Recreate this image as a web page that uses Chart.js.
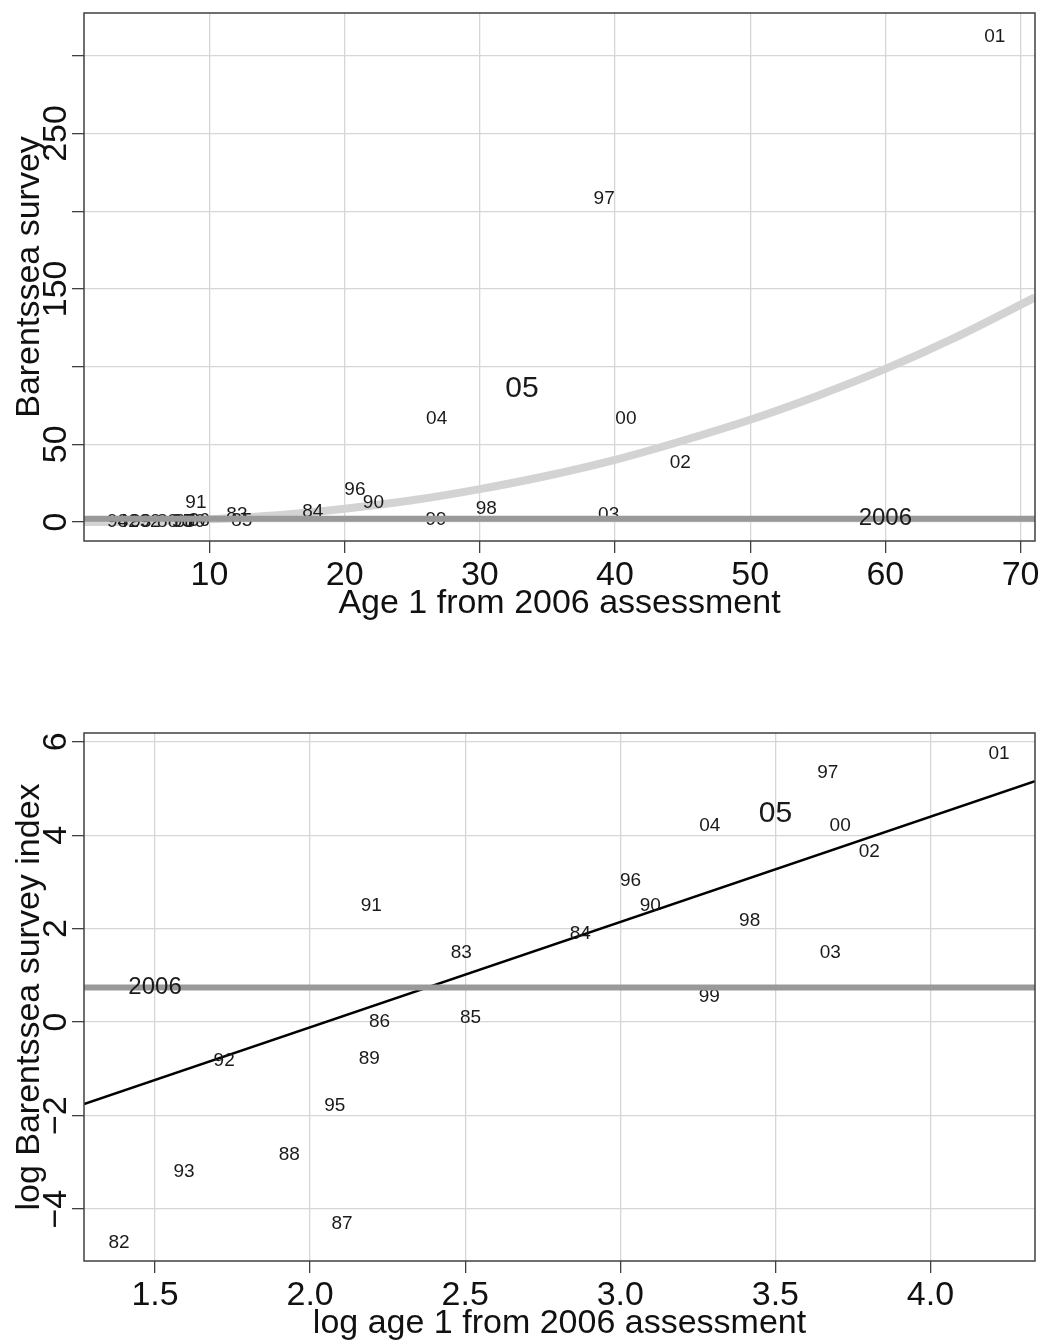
<!DOCTYPE html>
<html>
<head>
<meta charset="utf-8">
<script src="https://cdn.jsdelivr.net/npm/chart.js@4.4.1/dist/chart.umd.min.js"></script>
<style>
  body { margin: 0; background: #fff; }
  #wrap { position: relative; width: 1039px; height: 1340px; }
  canvas { position: absolute; left: 0; }
</style>
</head>
<body>
<div id="wrap">
  <canvas id="chart_raw" width="1039" height="670" style="top:0px"></canvas>
  <canvas id="chart_log" width="1039" height="670" style="top:670px"></canvas>
</div>
<script>
// year classes and their values (age 1 from 2006 assessment / Barentssea survey)
var years  = ['82','83','84','85','86','87','88','89','90','91','92','93','94','95','96','97','98','99','00','01','02','03','04','05'];
var age1   = [3.99, 12.03, 17.65, 12.39, 9.24, 8.19, 6.91, 8.94, 22.13, 9.00, 5.60, 4.92, 3.2, 8.00, 20.76, 39.2, 30.48, 26.76, 40.81, 68.1, 44.83, 39.53, 26.81, 33.12];
var survey = [0.0089, 4.41, 6.62, 1.09, 1.00, 0.0133, 0.0585, 0.455, 12.18, 12.18, 0.440, 0.0406, 0, 0.167, 20.78, 208.3, 8.83, 1.735, 66.35, 312, 38.25, 4.41, 66.35, 85.54];
var big_label = '05';

// survey index for 2006 (horizontal line)
var survey_2006 = 2.1;
var label_2006_age = 60;
var label_2006_logage = 1.5;

// fitted curve
var fit_age    = [0.72, 5, 10, 15, 20, 25, 30, 35, 40, 45, 50, 55, 60, 65, 71.07];
var fit_survey = [0.0, 0.4, 1.8, 4.4, 8.6, 14.0, 21.2, 29.8, 40.0, 52.3, 65.8, 81.3, 98.5, 118.0, 144.5];

// regression line (log scale)
var fit_logage    = [1.271, 4.337];
var fit_logsurvey = [-1.754, 5.153];

// axis ranges
var raw_x_range = [0.72, 71.07];
var raw_y_range = [-12.2, 327.5];
var log_x_range = [1.271, 4.337];
var log_y_range = [-5.11, 6.186];

var raw_y_labels = [0, 50, 150, 250];
var log_y_labels = [-4, -2, 0, 2, 4, 6];

var font_family = '"Liberation Sans", Arial, Helvetica, sans-serif';
var axis_font = '34px ' + font_family;

var make_text_plugin = function(cfg) {
  return {
    id: 'text_' + cfg.name,
    afterDatasetDraw: function(chart, args) {
      let ds = chart.data.datasets[args.index];
      if (ds.label !== 'years') return;
      let ctx = chart.ctx;
      ctx.save();
      ctx.fillStyle = '#1a1a1a';
      ctx.textAlign = 'center';
      ctx.textBaseline = 'middle';
      args.meta.data.forEach(function(pt, i) {
        let txt = ds.data[i].label;
        ctx.font = (txt == big_label ? 30 : 19) + 'px ' + font_family;
        ctx.fillText(txt, pt.x, pt.y);
      });
      ctx.restore();
    },
    afterDatasetsDraw: function(chart) {
      let ctx = chart.ctx;
      ctx.save();
      ctx.fillStyle = '#1a1a1a';
      ctx.textAlign = 'center';
      ctx.textBaseline = 'middle';
      ctx.font = '24px ' + font_family;
      ctx.fillText('2006', chart.scales.x.getPixelForValue(cfg.label2006[0]), chart.scales.y.getPixelForValue(cfg.label2006[1]));
      ctx.restore();
    },
    afterDraw: function(chart) {
      let ctx = chart.ctx;
      let area = chart.chartArea;
      let xs = chart.scales.x;
      let ys = chart.scales.y;
      ctx.save();
      // box
      ctx.strokeStyle = '#404040';
      ctx.lineWidth = 1.5;
      ctx.strokeRect(area.left, area.top, area.right - area.left, area.bottom - area.top);

      ctx.fillStyle = '#111';
      ctx.font = axis_font;
      ctx.textAlign = 'center';
      ctx.textBaseline = 'alphabetic';
      xs.ticks.forEach(function(t) {
        ctx.fillText(t.value.toFixed(cfg.xDecimals), xs.getPixelForValue(t.value), area.bottom + 44);
      });
      ctx.fillText(cfg.xTitle, (area.left + area.right) / 2, area.bottom + 72);

      ys.ticks.forEach(function(t) {
        if (cfg.yShown.indexOf(t.value) < 0) return;
        ctx.save();
        ctx.translate(66, ys.getPixelForValue(t.value));
        ctx.rotate(-Math.PI / 2);
        ctx.fillText(String(t.value).replace('-', '\u2212'), 0, 0);
        ctx.restore();
      });
      ctx.save();
      ctx.translate(39, (area.top + area.bottom) / 2);
      ctx.rotate(-Math.PI / 2);
      ctx.fillText(cfg.yTitle, 0, 0);
      ctx.restore();
      ctx.restore();
    }
  };
};

var axis_opts = function(range, step) {
  return {
    type: 'linear',
    min: range[0],
    max: range[1],
    border: { display: false },
    grid: {
      color: '#d6d6d6',
      lineWidth: 1.3,
      drawTicks: true,
      tickLength: 12,
      tickColor: '#404040',
      tickWidth: 1.3
    },
    ticks: { display: false, stepSize: step, includeBounds: false },
    title: { display: false }
  };
};

var base_options = function(xr, xstep, yr, ystep, pad) {
  return {
    responsive: false,
    devicePixelRatio: 1,
    animation: false,
    layout: { padding: pad },
    plugins: { legend: { display: false }, tooltip: { enabled: false } },
    scales: {
      x: axis_opts(xr, xstep),
      y: axis_opts(yr, ystep)
    }
  };
};

// top panel: raw values
var raw_points = years.map(function(y, i) { return { x: age1[i], y: survey[i], label: y }; });
var raw_fit = fit_age.map(function(a, i) { return { x: a, y: fit_survey[i] }; });

new Chart(document.getElementById('chart_raw'), {
  type: 'scatter',
  data: {
    datasets: [
      { label: 'line2006', data: [{ x: raw_x_range[0], y: survey_2006 }, { x: raw_x_range[1], y: survey_2006 }],
        showLine: true, borderColor: '#999999', borderWidth: 6, pointRadius: 0, order: 1 },
      { label: 'years', data: raw_points, showLine: false, pointRadius: 0, order: 2 },
      { label: 'fit', data: raw_fit, showLine: true, borderColor: '#d3d3d3', borderWidth: 8,
        pointRadius: 0, cubicInterpolationMode: 'monotone', order: 3 }
    ]
  },
  options: base_options(raw_x_range, 10, raw_y_range, 50, { left: 72, right: 4, top: 13, bottom: 117 }),
  plugins: [make_text_plugin({
    name: 'raw', xDecimals: 0, xTitle: 'Age 1 from 2006 assessment', yTitle: 'Barentssea survey',
    yShown: raw_y_labels, label2006: [label_2006_age, survey_2006]
  })]
});

// bottom panel: log values
var log_points = [];
years.forEach(function(y, i) {
  if (survey[i] > 0) log_points.push({ x: Math.log(age1[i]), y: Math.log(survey[i]), label: y });
});
var log_fit = fit_logage.map(function(a, i) { return { x: a, y: fit_logsurvey[i] }; });

new Chart(document.getElementById('chart_log'), {
  type: 'scatter',
  data: {
    datasets: [
      { label: 'line2006', data: [{ x: log_x_range[0], y: Math.log(survey_2006) }, { x: log_x_range[1], y: Math.log(survey_2006) }],
        showLine: true, borderColor: '#999999', borderWidth: 6, pointRadius: 0, order: 1 },
      { label: 'years', data: log_points, showLine: false, pointRadius: 0, order: 2 },
      { label: 'fit', data: log_fit, showLine: true, borderColor: '#000000', borderWidth: 2.5,
        pointRadius: 0, order: 3 }
    ]
  },
  options: base_options(log_x_range, 0.5, log_y_range, 2, { left: 72, right: 4, top: 63, bottom: 67 }),
  plugins: [make_text_plugin({
    name: 'log', xDecimals: 1, xTitle: 'log age 1 from 2006 assessment', yTitle: 'log Barentssea survey index',
    yShown: log_y_labels, label2006: [label_2006_logage, Math.log(survey_2006)]
  })]
});
</script>
</body>
</html>
